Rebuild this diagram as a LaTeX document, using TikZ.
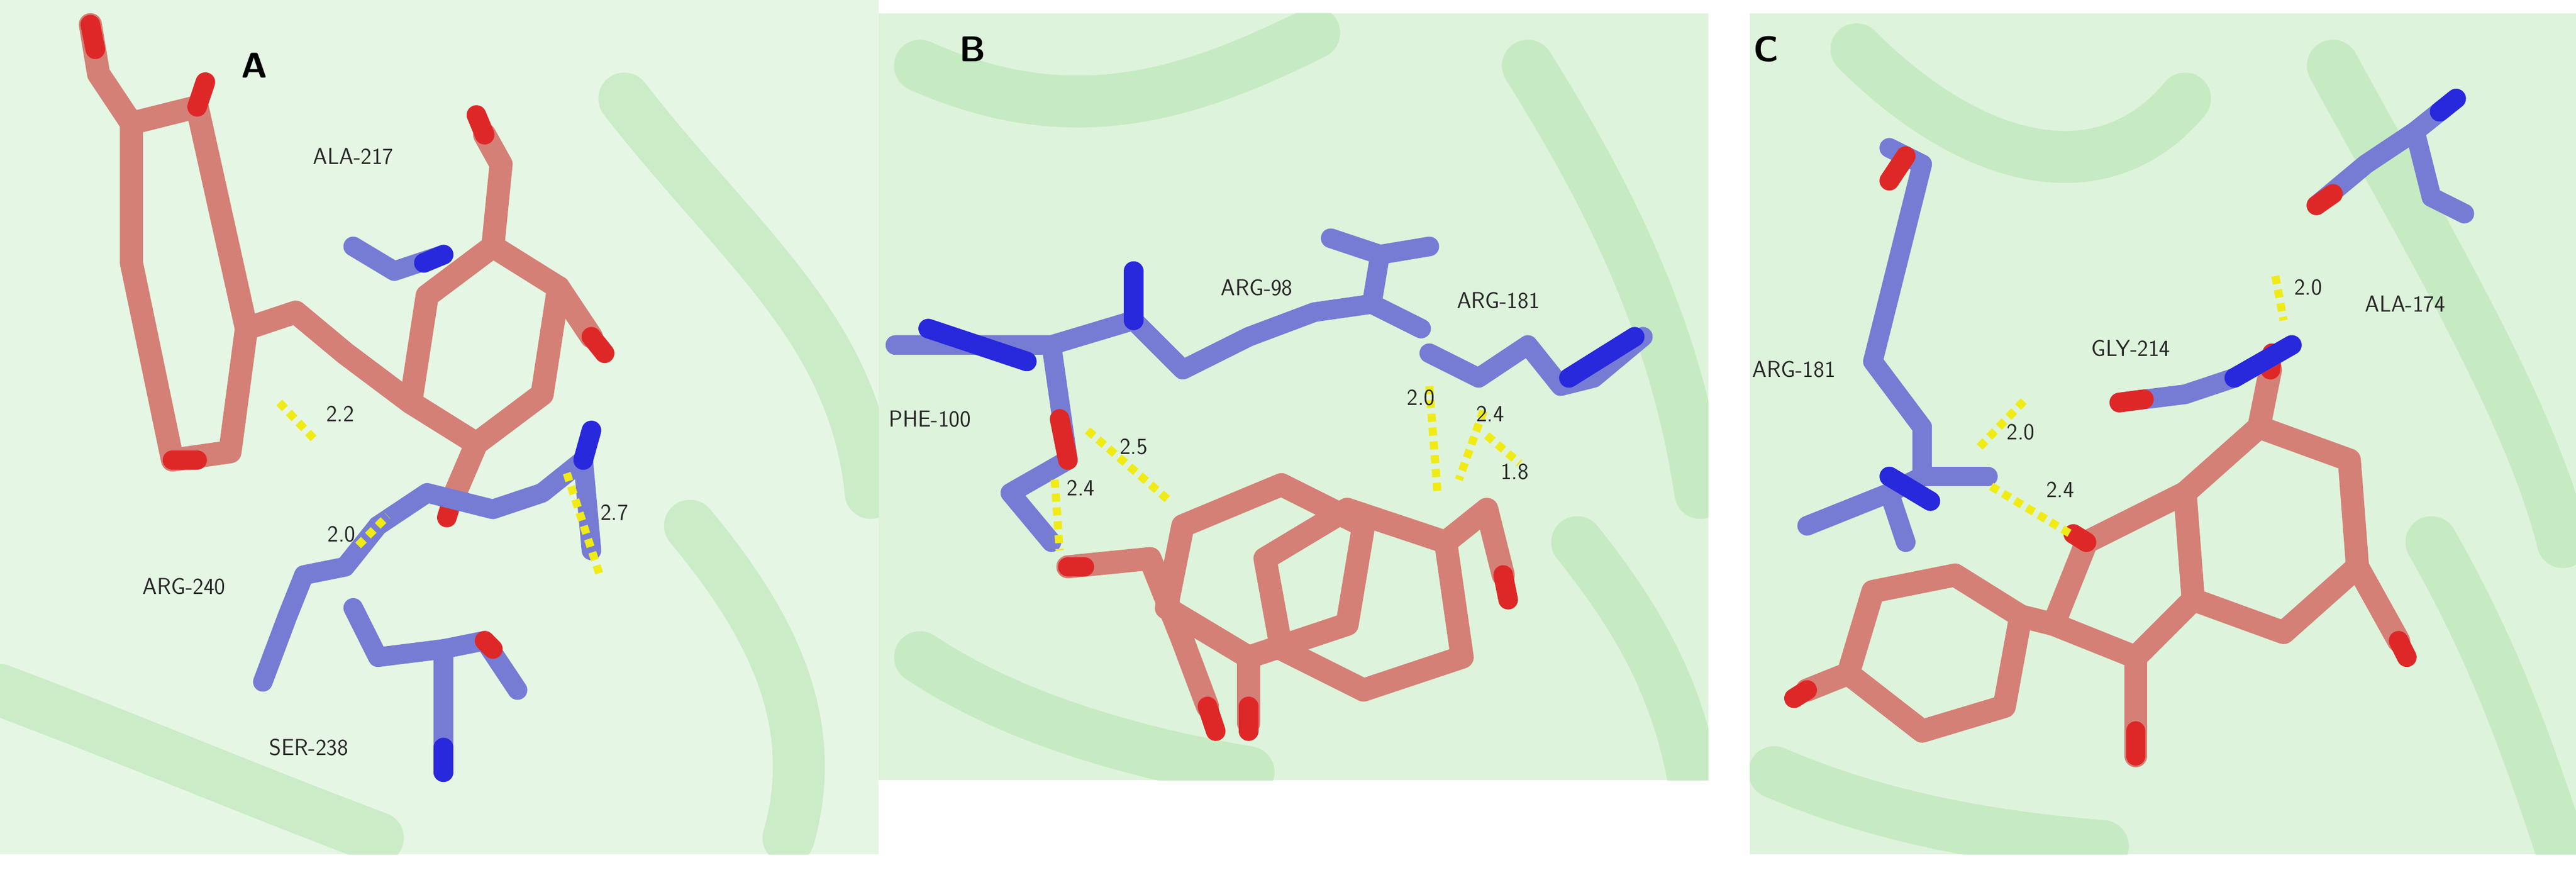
\documentclass[tikz,border=0pt]{standalone}
\usetikzlibrary{calc}
\definecolor{pinkC}{RGB}{212,128,118}
\definecolor{blueC}{RGB}{118,124,212}
\definecolor{redC}{RGB}{222,40,40}
\definecolor{dblue}{RGB}{40,40,220}
\definecolor{grbg}{RGB}{214,240,210}
\definecolor{grrib}{RGB}{170,225,165}
\definecolor{yelC}{RGB}{240,235,20}
\tikzset{
 pk/.style={draw=pinkC,line width=40pt,line cap=round,line join=round},
 bl/.style={draw=blueC,line width=34pt,line cap=round,line join=round},
 rd/.style={draw=redC,line width=34pt,line cap=round},
 db/.style={draw=dblue,line width=34pt,line cap=round},
 hb/.style={draw=yelC,line width=14pt,dash pattern=on 14pt off 10pt},
 rib/.style={draw=grrib,line width=90pt,line cap=round,opacity=0.45},
 lab/.style={font=\fontsize{40}{46}\selectfont\sffamily,text=black!85},
 pan/.style={font=\fontsize{62}{68}\selectfont\sffamily\bfseries}
}
\begin{document}
\begin{tikzpicture}[x=0.1cm,y=-0.1cm]
\useasboundingbox (0,0) rectangle (1568,529.5);
\fill[white] (0,0) rectangle (1568,529.5);
% panels
\fill[grbg,opacity=0.6] (0,0) rectangle (535,520);
\fill[grbg,opacity=0.8] (535,8) rectangle (1040,475);
\fill[grbg,opacity=0.8] (1065,8) rectangle (1568,520);
\begin{scope}
\clip (0,0) rectangle (535,520);
\draw[rib] (380,60) .. controls (450,150) and (520,200) .. (530,300);
\draw[rib] (420,320) .. controls (470,380) and (500,440) .. (480,510);
\draw[rib] (0,420) .. controls (80,450) and (150,480) .. (230,510);
\end{scope}
\begin{scope}
\clip (535,8) rectangle (1040,475);
\draw[rib] (560,40) .. controls (650,80) and (720,60) .. (800,20);
\draw[rib] (930,40) .. controls (980,120) and (1020,200) .. (1035,300);
\draw[rib] (560,400) .. controls (620,440) and (700,460) .. (760,470);
\draw[rib] (960,330) .. controls (1000,380) and (1020,420) .. (1030,470);
\end{scope}
\begin{scope}
\clip (1065,8) rectangle (1568,520);
\draw[rib] (1130,30) .. controls (1200,100) and (1280,120) .. (1330,60);
\draw[rib] (1420,40) .. controls (1480,150) and (1540,250) .. (1560,330);
\draw[rib] (1480,330) .. controls (1520,400) and (1540,460) .. (1560,520);
\draw[rib] (1080,470) .. controls (1150,500) and (1220,510) .. (1280,515);
\end{scope}
% ---------- Panel A
\draw[pk] (80,75) -- (120,65) -- (150,200) -- (140,275) -- (105,280) -- (80,160) -- cycle;
\draw[pk] (55,15) -- (60,45) -- (80,75);
\draw[pk] (150,200) -- (180,190) -- (210,215) -- (250,245);
\draw[pk] (260,180) -- (300,150) -- (340,175) -- (330,240) -- (290,270) -- (250,245) -- cycle;
\draw[pk] (300,150) -- (305,100) -- (295,82);
\draw[pk] (340,175) -- (360,205);
\draw[pk] (290,270) -- (275,305);
\draw[rd] (55,15) -- (58,30); \draw[rd] (120,65) -- (125,50);
\draw[rd] (105,280) -- (120,280); \draw[rd] (275,305) -- (272,315);
\draw[rd] (295,82) -- (290,70); \draw[rd] (360,205) -- (368,215);
\draw[bl] (215,150) -- (240,165) -- (270,155);
\draw[db] (258,160) -- (270,155);
\draw[bl] (230,320) -- (260,300) -- (300,310) -- (330,300) -- (355,280) -- (360,335);
\draw[db] (355,280) -- (360,262);
\draw[bl] (230,320) -- (210,345) -- (185,350) -- (175,375) -- (160,415);
\draw[bl] (215,370) -- (230,400) -- (270,395) -- (295,390) -- (315,420);
\draw[bl] (270,395) -- (270,470);
\draw[rd] (295,390) -- (300,395);
\draw[db] (270,455) -- (270,470);
\draw[hb] (170,245) -- (192,268);
\draw[hb] (218,332) -- (236,314);
\draw[hb] (345,288) -- (365,350);
\node[pan] (pA) at (155,40) {A};
\node[lab] (a1) at (215,95) {ALA-217};
\node[lab] (a2) at (207,252) {2.2};
\node[lab] (a3) at (208,325) {2.0};
\node[lab] (a4) at (374,312) {2.7};
\node[lab] (a5) at (112,357) {ARG-240};
\node[lab] (a6) at (188,455) {SER-238};
% ---------- Panel B
\draw[pk] (720,320) -- (780,295) -- (830,320) -- (820,380) -- (760,400) -- (710,370) -- cycle;
\draw[pk] (770,340) -- (820,310) -- (880,330) -- (890,400) -- (830,420) -- (780,395) -- cycle;
\draw[pk] (650,345) -- (700,340) -- (720,390) -- (735,430);
\draw[pk] (880,330) -- (905,310) -- (915,350);
\draw[pk] (760,400) -- (760,440);
\draw[rd] (650,345) -- (660,345); \draw[rd] (735,430) -- (740,445);
\draw[rd] (915,350) -- (918,365); \draw[rd] (760,430) -- (760,445);
\draw[bl] (545,210) -- (600,210) -- (640,210) -- (690,195) -- (720,225) -- (760,205) -- (800,190) -- (835,185) -- (865,200);
\draw[bl] (810,145) -- (840,155) -- (870,150);
\draw[bl] (840,155) -- (835,185);
\draw[db] (565,200) -- (625,220);
\draw[bl] (640,210) -- (650,280) -- (615,300) -- (640,330);
\draw[rd] (645,255) -- (650,280);
\draw[bl] (870,215) -- (900,230) -- (930,210) -- (950,235) -- (970,230) -- (1000,205);
\draw[db] (955,230) -- (995,205);
\draw[db] (690,195) -- (690,165);
\draw[hb] (662,262) -- (712,305);
\draw[hb] (642,292) -- (645,335);
\draw[hb] (870,235) -- (875,300);
\draw[hb] (903,250) -- (888,292);
\draw[hb] (905,265) -- (925,282);
\node[pan] (pB) at (592,30) {B};
\node[lab] (b1) at (765,175) {ARG-98};
\node[lab] (b2) at (912,183) {ARG-181};
\node[lab] (b3) at (566,255) {PHE-100};
\node[lab] (b4) at (690,272) {2.5};
\node[lab] (b5) at (658,297) {2.4};
\node[lab] (b6) at (865,242) {2.0};
\node[lab] (b7) at (907,252) {2.4};
\node[lab] (b8) at (922,287) {1.8};
% ---------- Panel C
\draw[pk] (1330,300) -- (1375,260) -- (1430,280) -- (1435,345) -- (1390,385) -- (1335,365) -- cycle;
\draw[pk] (1270,330) -- (1330,300) -- (1335,365) -- (1300,400) -- (1250,380) -- cycle;
\draw[pk] (1140,360) -- (1190,350) -- (1230,375) -- (1220,430) -- (1170,445) -- (1125,410) -- cycle;
\draw[pk] (1230,375) -- (1250,380);
\draw[pk] (1375,260) -- (1382,225);
\draw[pk] (1435,345) -- (1460,390);
\draw[pk] (1300,400) -- (1300,460);
\draw[pk] (1125,410) -- (1100,420);
\draw[rd] (1382,225) -- (1383,215); \draw[rd] (1460,390) -- (1465,400);
\draw[rd] (1300,445) -- (1300,460); \draw[rd] (1100,420) -- (1092,425);
\draw[rd] (1270,330) -- (1262,325);
\draw[bl] (1150,90) -- (1170,100) -- (1155,160) -- (1140,220) -- (1170,260) -- (1170,290) -- (1150,300) -- (1160,330);
\draw[bl] (1170,290) -- (1210,290);
\draw[bl] (1150,300) -- (1100,320);
\draw[db] (1150,290) -- (1175,305);
\draw[rd] (1150,110) -- (1160,95);
\draw[bl] (1290,245) -- (1330,240) -- (1360,230) -- (1395,210);
\draw[db] (1360,230) -- (1395,210);
\draw[rd] (1290,245) -- (1305,243);
\draw[bl] (1410,125) -- (1440,100) -- (1470,80) -- (1495,60);
\draw[bl] (1470,80) -- (1480,120) -- (1500,130);
\draw[rd] (1410,125) -- (1420,118);
\draw[db] (1485,68) -- (1495,60);
\draw[hb] (1385,168) -- (1390,195);
\draw[hb] (1205,272) -- (1232,244);
\draw[hb] (1212,296) -- (1262,326);
\node[pan] (pC) at (1075,30) {C};
\node[lab] (c1) at (1092,225) {ARG-181};
\node[lab] (c2) at (1297,212) {GLY-214};
\node[lab] (c3) at (1405,175) {2.0};
\node[lab] (c4) at (1464,185) {ALA-174};
\node[lab] (c5) at (1230,263) {2.0};
\node[lab] (c6) at (1254,298) {2.4};
\end{tikzpicture}
\end{document}
